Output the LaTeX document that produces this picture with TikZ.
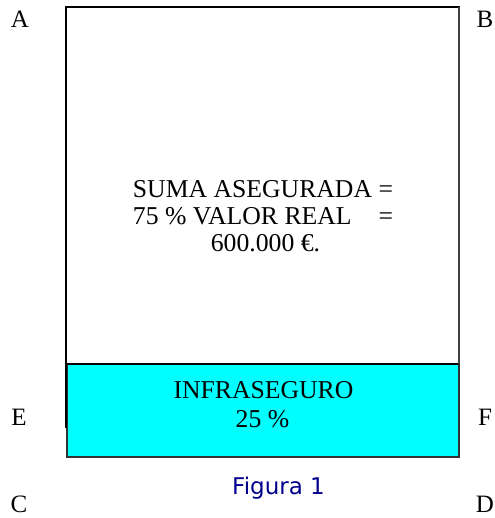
\documentclass[tikz,border=0pt]{standalone}
\usepackage{fontspec}
\setmainfont{Liberation Serif}
\newfontfamily\figfont{DejaVu Sans}
\definecolor{navyfig}{RGB}{0,0,140}
\definecolor{infracyan}{RGB}{0,255,255}
\newsavebox{\sumabox}
\begin{document}
\begin{tikzpicture}[x=1pt,y=1pt,
  txt/.style={font=\fontsize{25.7}{29}\selectfont, inner sep=0pt, anchor=base},
  corner/.style={font=\fontsize{25}{28}\selectfont, inner sep=0pt},
  heavy/.style={draw=black, line width=2pt},
  light/.style={draw=black!75, line width=1.2pt},
  infrabox/.style={fill=infracyan, draw=black!80, line width=1.3pt}]
\useasboundingbox (0,0) rectangle (494,518);
% cyan box
\path[infrabox] (67,61) rectangle (459,154);
\draw[black, line width=1.5pt] (67,154) -- (459,154);
% big rectangle
\draw[heavy, line cap=rect] (66,91) -- (66,510.5) -- (459,510.5);
\draw[light] (459,510.5) -- (459,154);
% texts
\node[txt] (suma1) at (263,320) {SUMA ASEGURADA =};
\node[txt] (suma2) at (263,293) {\sbox{\sumabox}{SUMA ASEGURADA =}\makebox[\wd\sumabox][s]{75 \% VALOR REAL\hfill=}};
\node[txt] (suma3) at (265.5,266) {600.000 €.};
\node[txt] (infra1) at (263.5,119) {INFRASEGURO};
\node[txt] (infra2) at (262.5,90) {25 \%};
\node[font=\figfont\fontsize{23}{26}\selectfont, text=navyfig, inner sep=0pt, anchor=base] (fig) at (278.5,23) {Figura 1};
\node[corner] (A) at (20,499) {A};
\node[corner] (B) at (485,499) {B};
\node[corner] (E) at (19,101) {E};
\node[corner] (F) at (485,101) {F};
\node[corner] (C) at (19,13.5) {C};
\node[corner] (D) at (485,13.5) {D};
\end{tikzpicture}
\end{document}
